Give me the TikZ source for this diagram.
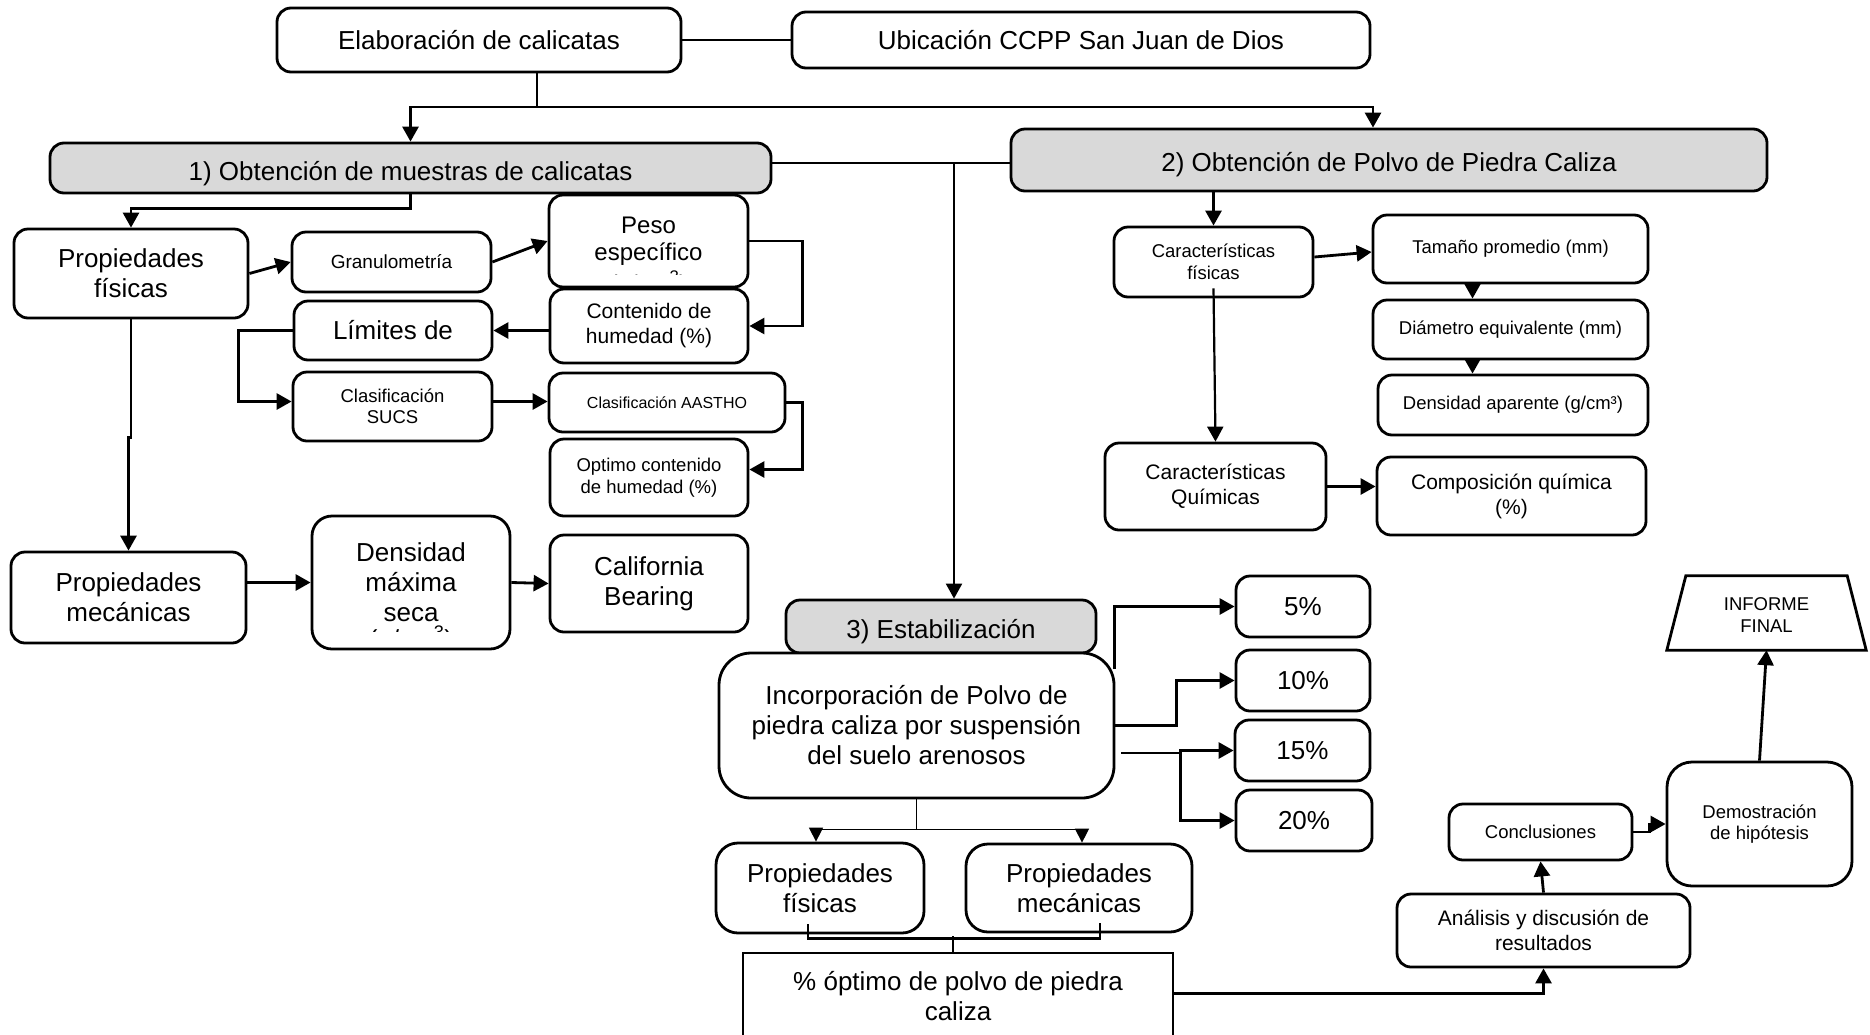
\documentclass[tikz,border=0pt]{standalone}
\usepackage{fontspec}
\setmainfont{Liberation Sans}
\usetikzlibrary{arrows.meta,calc}
\tikzset{
  bx/.style={draw, line width=2.8pt, rounded corners=14pt, align=center, inner sep=0pt, fill=white},
  gbx/.style={bx, fill=gray!30},
  conn/.style={line width=2.8pt},
  thinconn/.style={line width=1.4pt},
  arr/.style={conn, -{Triangle[length=15pt,width=16pt]}},
  thinarr/.style={thinconn, -{Triangle[length=14pt,width=14pt]}},
  f26/.style={font=\fontsize{26pt}{30pt}\selectfont},
  f24/.style={font=\fontsize{24pt}{27pt}\selectfont},
  f21/.style={font=\fontsize{21pt}{25pt}\selectfont},
  f19/.style={font=\fontsize{19pt}{22pt}\selectfont},
  f18/.style={font=\fontsize{18.5pt}{21.5pt}\selectfont},
  f16/.style={font=\fontsize{16pt}{19pt}\selectfont},
}
\begin{document}
\begin{tikzpicture}[x=1pt,y=-1pt]
\fill[white] (0,0) rectangle (1870,1034);
\useasboundingbox (0,0) rectangle (1870,1034);

% ---------- top ----------
\node[bx,f26,minimum width=404pt,minimum height=64pt] (elab) at (479,40) {Elaboración de calicatas};
\node[bx,f26,minimum width=578pt,minimum height=56pt] (ubic) at (1081,40) {Ubicación CCPP San Juan de Dios};
\node[gbx,f26,minimum width=721pt,minimum height=50pt,text height=29pt,text depth=5pt] (ob1) at (410.5,168) {1) Obtención de muestras de calicatas};
\node[gbx,f26,minimum width=756pt,minimum height=62pt,text height=27pt,text depth=5pt] (ob2) at (1389,160) {2) Obtención de Polvo de Piedra Caliza};

% ---------- left branch ----------
\node[bx,f26,minimum width=234pt,minimum height=89pt] (pf1) at (131,273.5) {Propiedades\\físicas};
\node[bx,f19,minimum width=199pt,minimum height=60pt] (gran) at (391.5,262) {Granulometría};
\node[bx,f24,minimum width=199pt,minimum height=92pt] (peso) at (648.5,241) {Peso\\específico};
\begin{scope}
  \clip (553,268) rectangle (744,274);
  \node[f24,anchor=base,inner sep=0pt] (pesox) at (648.5,292) {(g/cm\textsuperscript{3})};
\end{scope}
\node[bx,f21,minimum width=198pt,minimum height=74pt] (cont) at (649,326) {Contenido de\\humedad (\%)};
\node[bx,f26,minimum width=198pt,minimum height=59pt] (lim) at (393,330.5) {Límites de};
\node[bx,f18,minimum width=199pt,minimum height=69pt] (sucs) at (392.5,406.5) {Clasificación\\SUCS};
\node[bx,f16,minimum width=236pt,minimum height=59pt] (aash) at (667,402.5) {Clasificación AASTHO};
\node[bx,f18,minimum width=198pt,minimum height=77pt] (opt) at (649,477.5) {Optimo contenido\\de humedad (\%)};
\node[bx,f26,minimum width=235pt,minimum height=91pt] (pm1) at (128.5,597.5) {Propiedades\\mecánicas};
\node[bx,f26,minimum width=198pt,minimum height=133pt,rounded corners=20pt] (dens) at (411,582.5) {Densidad\\máxima\\seca};
\begin{scope}
  \clip (316,618) rectangle (506,631);
  \node[f26,anchor=base,inner sep=0pt] (densx) at (411,648) {(g/cm\textsuperscript{3})};
\end{scope}
\node[bx,f26,minimum width=198pt,minimum height=97pt] (calif) at (649,583.5) {California\\Bearing};

% ---------- right branch ----------
\node[bx,f18,minimum width=199pt,minimum height=70pt] (cf) at (1213.5,262) {Características\\físicas};
\node[bx,f18,minimum width=275pt,minimum height=68pt] (tam) at (1510.5,249) {Tamaño promedio (mm)};
\node[bx,f18,minimum width=275pt,minimum height=59pt] (diam) at (1510.5,329.5) {Diámetro equivalente (mm)};
\node[bx,f18,minimum width=270pt,minimum height=60pt] (dap) at (1513,405) {Densidad aparente (g/cm³)};
\node[bx,f21,minimum width=221pt,minimum height=87pt] (cq) at (1215.5,486.5) {Características\\Químicas};
\node[bx,f21,minimum width=269pt,minimum height=78pt] (comp) at (1511.5,496) {Composición química\\(\%)};

% ---------- middle ----------
\node[gbx,f26,minimum width=310pt,minimum height=53pt,text height=28pt,text depth=5pt] (est) at (941,626.5) {3) Estabilización};
\node[bx,f26,minimum width=395pt,minimum height=145pt,rounded corners=32pt] (inc) at (916.5,725.5) {Incorporación de Polvo de\\piedra caliza por suspensión\\del suelo arenosos};
\node[bx,f26,minimum width=134pt,minimum height=61pt] (p5) at (1303,606.5) {5\%};
\node[bx,f26,minimum width=134pt,minimum height=61pt] (p10) at (1303,680.5) {10\%};
\node[bx,f26,minimum width=135pt,minimum height=61pt] (p15) at (1302.5,750.5) {15\%};
\node[bx,f26,minimum width=136pt,minimum height=61pt] (p20) at (1304,820.5) {20\%};
\node[bx,f26,minimum width=208pt,minimum height=90pt,rounded corners=22pt] (pf2) at (820,888) {Propiedades\\físicas};
\node[bx,f26,minimum width=226pt,minimum height=88pt,rounded corners=22pt] (pm2) at (1079,888) {Propiedades\\mecánicas};
\node[draw,line width=2.8pt,f26,align=center,inner sep=0pt,minimum width=430pt,minimum height=87pt,fill=white] (opt2) at (958,996.5) {\% óptimo de polvo de piedra\\caliza};

% ---------- bottom right ----------
\node[f18,align=center,inner sep=0pt,minimum width=199pt,minimum height=74pt] (inf) at (1766.5,615) {INFORME\\FINAL};
\draw[conn,line join=miter] ([xshift=19pt,yshift=2pt]inf.north west) -- ([xshift=-19pt,yshift=2pt]inf.north east) -- ([yshift=2pt]inf.south east) -- ([yshift=2pt]inf.south west) -- cycle;
\node[bx,f18,minimum width=185pt,minimum height=124pt,rounded corners=25pt] (demo) at (1759.5,824) {Demostración\\de hipótesis};
\node[bx,f18,minimum width=183pt,minimum height=56pt] (conc) at (1540.5,832) {Conclusiones};
\node[bx,f21,minimum width=293pt,minimum height=73pt] (anal) at (1543.5,930.5) {Análisis y discusión de\\resultados};

% ---------- connectors ----------
\draw[conn] (elab) -- (ubic);
\coordinate (j1) at (537,107);
\draw[conn] (elab.south -| j1) -- (j1);
\draw[arr] (j1) -| (ob1.north);
\draw[arr] (j1) -| ([xshift=-16pt]ob2.north);
\draw[conn] ([yshift=5pt]ob1.east) -- ([yshift=5pt]ob1.east -| ob2.west);
\coordinate (j2) at (954,163);
\draw[arr,line width=2.2pt] (j2) -- (j2 |- est.north);

\draw[arr] (ob1.south) -- ++(0,14) -| (pf1.north);
\draw[arr] (pf1.east) -- (gran.west);
\draw[arr] (gran.east) -- (peso.west);
\draw[arr] (peso.east) -- ++(53,0) |- (cont.east);
\draw[arr] (cont.west |- lim.east) -- (lim.east);
\draw[arr] (lim.west) -- ++(-54,0) |- ([yshift=5pt]sucs.west);
\draw[arr] ([yshift=5pt]sucs.east) -- ([yshift=5pt]sucs.east -| aash.west);
\draw[arr] (aash.east) -- ++(16,0) |- ([yshift=8pt]opt.east);
\draw[arr] (pf1.south) -- ++(0,118) -| (pm1.north);
\draw[arr] (pm1.east |- dens.west) -- (dens.west);
\draw[arr] (dens.east) -- (calif.west);

\draw[arr] (ob2.south -| cf.north) -- (cf.north);
\draw[arr] ([yshift=5pt]cf.east) -- ([yshift=-3pt]tam.west);
\draw[arr] ([xshift=-38pt]tam.south) -- ([xshift=-38pt]tam.south |- diam.north);
\draw[arr] ([xshift=-38pt]diam.south) -- ([xshift=-38pt]diam.south |- dap.north);
\draw[arr,line width=2.2pt] ([yshift=10pt]cf.south) -- (cq.north);
\draw[arr] (cq.east) -- (cq.east -| comp.west);

\draw[arr] ($(inc.north east)+(-1,17)$) |- (p5.west);
\draw[arr] (inc.east) -- ++(61,0) |- (p10.west);
\draw[conn] ($(inc.east)+(6,27.5)$) -- ++(59,0) coordinate (j3);
\draw[arr] (j3) |- (p15.west);
\draw[arr] (j3) |- (p20.west);
\draw[thinconn] (inc.south) -- ++(0,30) coordinate (j4);
\draw[thinarr] (j4) -| ([xshift=-4pt]pf2.north);
\draw[thinarr] (j4) -| ([xshift=3pt]pm2.north);
\draw[line width=2.2pt] ([xshift=-12pt,yshift=10pt]pf2.south) -- ++(0,14) -| ([xshift=21pt,yshift=10pt]pm2.south);
\draw[line width=2.2pt] ([xshift=-5pt]opt2.north) -- ++(0,-16);

\draw[arr] ([yshift=3pt]opt2.east) -| (anal.south);
\draw[arr] (anal.north) -- (conc.south);
\draw[arr] (conc.east) -- ++(16,0) |- (demo.west);
\draw[arr] (demo.north) -- ([yshift=2pt]inf.south);
\end{tikzpicture}
\end{document}
